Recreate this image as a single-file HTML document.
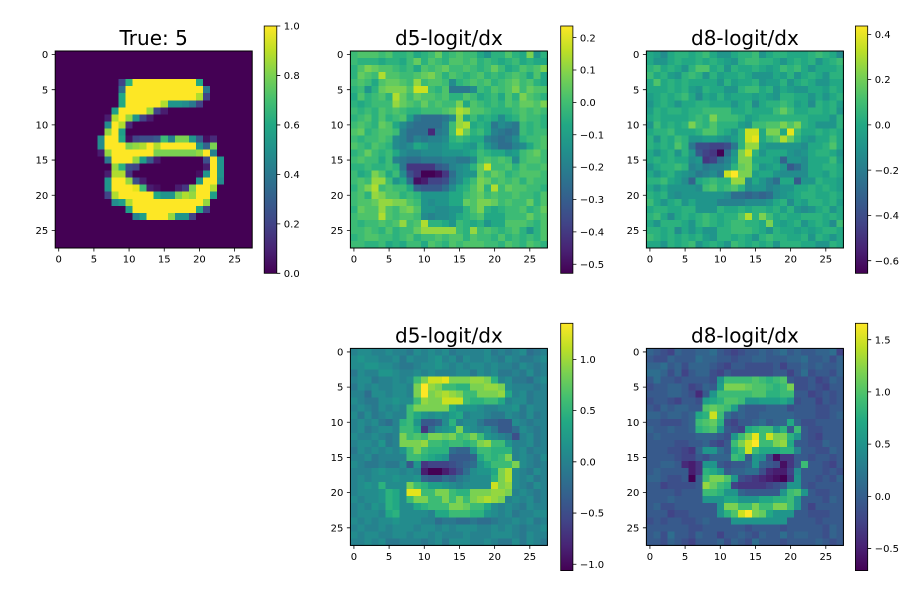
<!DOCTYPE html>
<html><head><meta charset="utf-8">
<style>
html,body{margin:0;padding:0;background:#fff;}
svg{display:block;}
text{font-family:"DejaVu Sans","Liberation Sans",sans-serif;fill:#000;}
.t{font-size:20px;text-anchor:middle;}
.tk{font-size:10px;}
.m{text-anchor:middle;}
.e{text-anchor:end;}
</style></head><body>
<svg id="s" width="917" height="590" viewBox="0 0 917 590" xmlns="http://www.w3.org/2000/svg">
<defs>
<linearGradient id="vir" x1="0" y1="1" x2="0" y2="0">
<stop offset="0" stop-color="#440154"/><stop offset="0.1" stop-color="#482475"/><stop offset="0.2" stop-color="#414487"/><stop offset="0.3" stop-color="#355f8d"/><stop offset="0.4" stop-color="#2a788e"/><stop offset="0.5" stop-color="#21918c"/><stop offset="0.6" stop-color="#22a884"/><stop offset="0.7" stop-color="#44bf70"/><stop offset="0.8" stop-color="#7ad151"/><stop offset="0.9" stop-color="#bddf26"/><stop offset="1" stop-color="#fde725"/>
</linearGradient>
</defs>
<g id="maps" shape-rendering="crispEdges"></g>

<!-- spines -->
<g fill="none" stroke="#000" stroke-width="1">
<rect x="55.2" y="51" width="197" height="197"/>
<rect x="350.4" y="51" width="197" height="197"/>
<rect x="646.4" y="51" width="197" height="197"/>
<rect x="350.4" y="348.4" width="197" height="197"/>
<rect x="646.4" y="348.4" width="197" height="197"/>
</g>

<!-- colorbars -->
<g>
<rect x="264.2" y="26" width="12.6" height="247.3" fill="url(#vir)" stroke="#000" stroke-width="0.8"/>
<rect x="560.7" y="26" width="12.2" height="247.3" fill="url(#vir)" stroke="#000" stroke-width="0.8"/>
<rect x="855.4" y="26" width="12.3" height="247.3" fill="url(#vir)" stroke="#000" stroke-width="0.8"/>
<rect x="560.7" y="323.3" width="12.2" height="247.3" fill="url(#vir)" stroke="#000" stroke-width="0.8"/>
<rect x="855.4" y="323.3" width="12.3" height="247.3" fill="url(#vir)" stroke="#000" stroke-width="0.8"/>
</g>

<!-- tick marks -->
<g stroke="#000" stroke-width="0.8" fill="none">
<path d="M58.72 248v3.5M93.9 248v3.5M129.08 248v3.5M164.25 248v3.5M199.43 248v3.5M234.61 248v3.5M55.2 54.52h-3.5M55.2 89.7h-3.5M55.2 124.88h-3.5M55.2 160.05h-3.5M55.2 195.23h-3.5M55.2 230.41h-3.5"/>
<path d="M353.92 248v3.5M389.1 248v3.5M424.28 248v3.5M459.45 248v3.5M494.63 248v3.5M529.81 248v3.5M350.4 54.52h-3.5M350.4 89.7h-3.5M350.4 124.88h-3.5M350.4 160.05h-3.5M350.4 195.23h-3.5M350.4 230.41h-3.5"/>
<path d="M649.92 248v3.5M685.1 248v3.5M720.28 248v3.5M755.45 248v3.5M790.63 248v3.5M825.81 248v3.5M646.4 54.52h-3.5M646.4 89.7h-3.5M646.4 124.88h-3.5M646.4 160.05h-3.5M646.4 195.23h-3.5M646.4 230.41h-3.5"/>
<path d="M353.92 545.4v3.5M389.1 545.4v3.5M424.28 545.4v3.5M459.45 545.4v3.5M494.63 545.4v3.5M529.81 545.4v3.5M350.4 351.92h-3.5M350.4 387.1h-3.5M350.4 422.28h-3.5M350.4 457.45h-3.5M350.4 492.63h-3.5M350.4 527.81h-3.5"/>
<path d="M649.92 545.4v3.5M685.1 545.4v3.5M720.28 545.4v3.5M755.45 545.4v3.5M790.63 545.4v3.5M825.81 545.4v3.5M646.4 351.92h-3.5M646.4 387.1h-3.5M646.4 422.28h-3.5M646.4 457.45h-3.5M646.4 492.63h-3.5M646.4 527.81h-3.5"/>
<path d="M276.8 273.3h3.5M276.8 223.84h3.5M276.8 174.38h3.5M276.8 124.92h3.5M276.8 75.46h3.5M276.8 26h3.5"/>
<path d="M572.9 37.65h3.5M572.9 70.02h3.5M572.9 102.39h3.5M572.9 134.76h3.5M572.9 167.13h3.5M572.9 199.5h3.5M572.9 231.87h3.5M572.9 264.24h3.5"/>
<path d="M867.7 34.37h3.5M867.7 79.63h3.5M867.7 124.89h3.5M867.7 170.15h3.5M867.7 215.41h3.5M867.7 260.67h3.5"/>
<path d="M572.9 359.36h3.5M572.9 410.59h3.5M572.9 461.82h3.5M572.9 513.04h3.5M572.9 564.27h3.5"/>
<path d="M867.7 339.7h3.5M867.7 391.91h3.5M867.7 444.13h3.5M867.7 496.34h3.5M867.7 548.56h3.5"/>
</g>

<!-- titles -->
<text class="t" x="153.7" y="45">True: 5</text>
<text class="t" x="448.9" y="45">d5-logit/dx</text>
<text class="t" x="744.9" y="45">d8-logit/dx</text>
<text class="t" x="448.9" y="342.4">d5-logit/dx</text>
<text class="t" x="744.9" y="342.4">d8-logit/dx</text>

<!-- axis tick labels -->
<g class="tk">
<text class="m" x="58.72" y="262.6">0</text><text class="m" x="93.9" y="262.6">5</text><text class="m" x="129.08" y="262.6">10</text><text class="m" x="164.25" y="262.6">15</text><text class="m" x="199.43" y="262.6">20</text><text class="m" x="234.61" y="262.6">25</text>
<text class="e" x="48.2" y="58.1">0</text><text class="e" x="48.2" y="93.3">5</text><text class="e" x="48.2" y="128.5">10</text><text class="e" x="48.2" y="163.6">15</text><text class="e" x="48.2" y="198.8">20</text><text class="e" x="48.2" y="234">25</text>

<text class="m" x="353.92" y="262.6">0</text><text class="m" x="389.1" y="262.6">5</text><text class="m" x="424.28" y="262.6">10</text><text class="m" x="459.45" y="262.6">15</text><text class="m" x="494.63" y="262.6">20</text><text class="m" x="529.81" y="262.6">25</text>
<text class="e" x="343.4" y="58.1">0</text><text class="e" x="343.4" y="93.3">5</text><text class="e" x="343.4" y="128.5">10</text><text class="e" x="343.4" y="163.6">15</text><text class="e" x="343.4" y="198.8">20</text><text class="e" x="343.4" y="234">25</text>

<text class="m" x="649.92" y="262.6">0</text><text class="m" x="685.1" y="262.6">5</text><text class="m" x="720.28" y="262.6">10</text><text class="m" x="755.45" y="262.6">15</text><text class="m" x="790.63" y="262.6">20</text><text class="m" x="825.81" y="262.6">25</text>
<text class="e" x="639.4" y="58.1">0</text><text class="e" x="639.4" y="93.3">5</text><text class="e" x="639.4" y="128.5">10</text><text class="e" x="639.4" y="163.6">15</text><text class="e" x="639.4" y="198.8">20</text><text class="e" x="639.4" y="234">25</text>

<text class="m" x="353.92" y="560">0</text><text class="m" x="389.1" y="560">5</text><text class="m" x="424.28" y="560">10</text><text class="m" x="459.45" y="560">15</text><text class="m" x="494.63" y="560">20</text><text class="m" x="529.81" y="560">25</text>
<text class="e" x="343.4" y="355.5">0</text><text class="e" x="343.4" y="390.7">5</text><text class="e" x="343.4" y="425.9">10</text><text class="e" x="343.4" y="461">15</text><text class="e" x="343.4" y="496.2">20</text><text class="e" x="343.4" y="531.4">25</text>

<text class="m" x="649.92" y="560">0</text><text class="m" x="685.1" y="560">5</text><text class="m" x="720.28" y="560">10</text><text class="m" x="755.45" y="560">15</text><text class="m" x="790.63" y="560">20</text><text class="m" x="825.81" y="560">25</text>
<text class="e" x="639.4" y="355.5">0</text><text class="e" x="639.4" y="390.7">5</text><text class="e" x="639.4" y="425.9">10</text><text class="e" x="639.4" y="461">15</text><text class="e" x="639.4" y="496.2">20</text><text class="e" x="639.4" y="531.4">25</text>

<!-- colorbar labels -->
<text x="283.8" y="276.9">0.0</text><text x="283.8" y="227.4">0.2</text><text x="283.8" y="178">0.4</text><text x="283.8" y="128.5">0.6</text><text x="283.8" y="79.1">0.8</text><text x="283.8" y="29.6">1.0</text>

<text x="579.9" y="41.3">0.2</text><text x="579.9" y="73.6">0.1</text><text x="579.9" y="106">0.0</text><text x="579.9" y="138.4">−0.1</text><text x="579.9" y="170.7">−0.2</text><text x="579.9" y="203.1">−0.3</text><text x="579.9" y="235.5">−0.4</text><text x="579.9" y="267.8">−0.5</text>

<text x="874.7" y="38">0.4</text><text x="874.7" y="83.2">0.2</text><text x="874.7" y="128.5">0.0</text><text x="874.7" y="173.8">−0.2</text><text x="874.7" y="219">−0.4</text><text x="874.7" y="264.3">−0.6</text>

<text x="579.9" y="363">1.0</text><text x="579.9" y="414.2">0.5</text><text x="579.9" y="465.4">0.0</text><text x="579.9" y="516.6">−0.5</text><text x="579.9" y="567.9">−1.0</text>

<text x="874.7" y="343.3">1.5</text><text x="874.7" y="395.5">1.0</text><text x="874.7" y="447.7">0.5</text><text x="874.7" y="499.9">0.0</text><text x="874.7" y="552.2">−0.5</text>
</g>
</svg>
<script>
(function(){
var V=[[68,1,84],[71,19,101],[72,36,117],[70,52,128],[65,68,135],[59,82,139],[53,95,141],[47,108,142],[42,120,142],[37,132,142],[33,145,140],[30,156,137],[34,168,132],[47,180,124],[68,191,112],[94,201,98],[122,209,81],[155,217,60],[189,223,38],[223,227,24],[253,231,37]];
function vir(t){t=Math.max(0,Math.min(1,t));var f=t*20,i=Math.min(19,Math.floor(f)),u=f-i,a=V[i],b=V[i+1];
return 'rgb('+Math.round(a[0]+(b[0]-a[0])*u)+','+Math.round(a[1]+(b[1]-a[1])*u)+','+Math.round(a[2]+(b[2]-a[2])*u)+')';}
var K=197/28;
function draw(x0,y0,rows){var s='';for(var r=0;r<28;r++){var row=rows[r]||'';for(var c=0;c<28;c++){var ch=row.charAt(c)||row.charAt(row.length-1)||'m';var t=(ch.charCodeAt(0)-97)/25;
s+='<rect x="'+(x0+c*K).toFixed(2)+'" y="'+(y0+r*K).toFixed(2)+'" width="'+(K+0.5).toFixed(2)+'" height="'+(K+0.5).toFixed(2)+'" fill="'+vir(t)+'"/>';}}return s;}
var A='aaaaaaaaaaaaaaaaaaaaaaaaaaaa';
var d1=[A,A,A,A,
"aaaaaaaaafqzzzzzzzzzpaaaaaaa",
"aaaaaaaaajzzzzzzzzzzzkaaaaaa",
"aaaaaaaaapzzzzzzzzzzwfaaaaaa",
"aaaaaaaaapzzzzzwnnmkfaaaaaaa",
"aaaaaaaaozzzzvfcaaaaaaaaaaaa",
"aaaaaaacwzvnfcaaaaaaaaaaaaaa",
"aaaaaaamzwdaaaaaaaaaaaaaaaaa",
"aaaaaaavzoaaaaaaaaaaaaaaaaaa",
"aaaaaamzzpbfggh rluunhbdaaaaa".replace(' ',''),
"aaaaaamzzzuvwzwzzzzzniuaaaaa",
"aaaaaacvzzzzzzuuuuuuvzlaaaaa",
"aaaaaaakzzzvohcaaaaaagznaaaa",
"aaaaaaaavqgfaaaaaaaaacznaaaa",
"aaaaaaacwweaaaaaaaaabnznaaaa",
"aaaaaaanzzvgcaaaaaaanzzmaaaa",
"aaaaaaanzzzyrcbaaceuzzwaaaaa",
"aaaaaaafwzzzzzpnnuwvzzoaaaaa",
"aaaaaaaamowzzzzzzzzzzvaaaaaa",
"aaaaaaaaaaozzzzzzzzzpfaaaaaa",
"aaaaaaaaaaalozzzvnnfaaaaaaaa",
A,A,A,A];
var d2=[
"rsssrsqqrpqrtqrsrrpnqqsqpunq",
"rqqqpqqprtqsrqssrsqrqpqrpqpp",
"qsutssrqrpsrstrrsrqrtrpqsrsu",
"qtsrwssrrstusqsrqrsqrqrsrpsp",
"rsrpsttsrvrssrmqrsrsqrstrsqp",
"qrnqtuuusxxrqskkkmrqsrsurtss",
"psqrsqwtrtssrsqqsrpqrpsqusrq",
"qpqrrrvtsrtrsrrupsrqrqsrttsu",
"rqrqsrsrqqrrrstwvssrqqqrsrsr",
"qrsqsqrsokjjjkmvprpqpmpqsrrq",
"rsrqtspmkjjjjlrvwpqpkmlkrqrq",
"stqrssrljjjdklrxtqrplkjkrqrr",
"rqrrsrmljlkllmqrqpplkjkmqrrs",
"srqsrqmlmpommnpponqnljjlmprs",
"qrtrqrpmllmmmnnnoprqppnorstr",
"rsrrprlkjjkkkllkkmrsrsrmrssr",
"qqrqqrqkeeeehilmnqtxrrsqsrrs",
"rpqusprmgeaabejmnntrtsqrsssr",
"rsrvvrnpjbcffgkmprutrsrsqsrr",
"qsuwrsrrpihhhjmpqsuqwrtssrrq",
"rsqvussqrqnnnnpprstrsrrsrrqs",
"rsstvvuusrnmnnpptsuutrsrrtqs",
"qtssvsrtusnnmmnnqsuqpqrrsqrt",
"rssswsrssrmlmmnpqrsppprrrtrs",
"rqrrsrsvrswqqpnrqpqnppsssrqs",
"rrsrqsqrrtvvvvvrqvrsrqrsqnqs",
"qrssrrqrsqrrsrssqsrrqsqrqrqs",
"rrqqrpqprrpsrqsrsssrrqsrqsrq"];
var d3=[
"pompqqpqrpnnpqqrnpqqpppqrqpm",
"pnnpqppqpqponqrrqqpnpqpqnpqr",
"qrpqpnqsspqnqppqpoprqrpnpppq",
"rpqonqrqnqoppqpnnnpoqnpqpnqq",
"pspqpqppppnqoppqnooqnpqpnnpp",
"pppqpqonqppnnqrrpqnponnppoqp",
"opqpqrpmpoqopppoponqqppnpnpq",
"npqpnppqqpppnpqmpqqrqopmqpqo",
"oqpqqpqqrrrrppqppprtrppqqpqn",
"pqppppqrqurrrqopqqqqqqqpppnq",
"nrpqpqurqsqqqonrrssusuqpnnnq",
"pqqrpppqssqpnqxxpuupyrppqpqp",
"qnqprqnnoonmoqxyprswtqonpprp",
"qpqpsqkggffgkqvvonnnnnmppqsp",
"pnpqnqnhfeajnuxqnpppnmnpqqpn",
"pqpqppmnefjlouupppoinnmpppro",
"npqqrqlmkllmqtuqnopnhjmppqqp",
"pnpqonmklmkxzuuoppnmmmmppoqp",
"qqrpomipqrqqvvmpnljpphnnqppo",
"pnpnnnnmrsqrsqmnnlmnnppqpqpo",
"qpqnmnnnnnnmjjijijmnopqqppqp",
"rpnpqnpnnnllllmmmnpqmpoqqpqo",
"pqqppqqnnnqppqpqqpqoqnmnpqnp",
"qrpmpqpqrqpqqswqurpqppqqqpqp",
"pnqqqpnqrqpqrrqqpupopqnpqpmr",
"qqpqmpnpnnqqrrrqpnqppopopqqp",
"rqpqpqpqonqqpqpnqrqqppqnqpnp",
"ppnqpqrnpqpnrqpqpqnqqqppnnqp"];
var d4=[
"lmmllmllkmlmlmkllllmklklmjkl",
"mnmmllmkmllmnlmkmllmlkmlkklm",
"mmnnmmlkklmmnmlmlmmlmllkmlkl",
"kmllnnmllmlmlllmmkmlmkklkmkl",
"lmmkllmlmruxxyuuuvvuqlmkkjlm",
"kmlmllmmluzvurrqquuvvumlllkl",
"lljmmlmmluzuvwvurruuuvplmkll",
"mlkkmmnmmrvuuxxxrqqrrplmmkll",
"lmlkmlmlruuuuupnnnmllmmnkmll",
"mkmklmllrpnmnmoplmmlkkmlkmkl",
"lmlmkjlqrnhhimqlmmkiihhmlkll",
"lmklmmlrrpejmnounmlmkhhjmlkl",
"mllmlklursruutursurnmlkglmkl",
"lmmlnkluuuvrrqrrqruvrrnllmkl",
"kmlmlmlnrurqqqjiinrrqqqlmkll",
"llmkllllrrqponhhhiprqrulmlkm",
"mlkklkkmhnefffghijnprrrumlkl",
"lllmnmmlmlcaacegjmnnpuwmlkml",
"lmlmmmnmmnihhjiklmmmquwmlmkl",
"lmnmqmmmurqoonmlmmmmxuvmlkml",
"lmmmnqpmyyrruurqquuuvvulmlkl",
"mlmmnqpmruurrururuvwvulmlmkl",
"lmlnmqpmmpqrrruutrrpmlmlkmll",
"lmmmlpqmmmmlpprrrqqnmlmkllmm",
"mlmlmmnmmmlljkkjjkjjkllmlmkl",
"lmllmlmmmlmmlmlmmmllmlmlkllm",
"mlmmllmmlmmlmlllmlllmmmlkmll",
"llmlmkklllklmkmmmllmlkkmkmlk"];
var d5=[
"ihgfihhiijhgfghhihijhihhiijf",
"hggihhhjiihhghhiihhhiijhhigi",
"iijhigiiihgfhhgggghfhhihihhi",
"jjigifhiigfhgggggghhfhjghhgi",
"hjhhghhhhgnrrrrsrqrshgghfgih",
"ghhiihfgihouuutssrqrugghgfhh",
"hhhiihgdhnrrrrrssqqrrhhfghgh",
"ghhgfhhgopqssrnnooopnghhfhgh",
"hgihiihhstsroihhhiiighhhgghh",
"iihiihipqxrjhihhiiiiihhhgghi",
"hhggghirstqgfhhijhiipigghhhh",
"ihhihhiqrsnhgfpqrrnqhrhgghhh",
"hihhhhhiiihgnruyrxuuqnhgfhhh",
"hhhhgghhigfhruxzrruvphhggihh",
"hhhggfeinnjhprxrpppqqlhhggih",
"hhhhgffhgiiirqhnmgbeehhghhgh",
"hhiihdcennhghhinihgbehrhhgfh",
"hihhhhceqpnhiijjgdccfmhhhghg",
"iihgghahruusngfedcbaenhhghgi",
"hhfgggghvtrqfeeeefghnnhghhhh",
"hhhhghhhrrqnnihhhhhnrsnhgghh",
"hhhihhhhnnnppnnnppqqrnhhhgih",
"higghhhhhhnuurrurruurnhfhhhh",
"hhhfgghhhhnqsxzutpnnnhhggghh",
"ghghhgghihhhnnnnnnnnhhhhghhh",
"hhhhhhgghhhhhhghhhhghhhhhgih",
"higjhhgihhfhhihgihhjhiihhgih",
"hhgihgfhhhigihgjhhhghhhhihgh"];
var s=draw(55.2,51,d1)+draw(350.4,51,d2)+draw(646.4,51,d3)+draw(350.4,348.4,d4)+draw(646.4,348.4,d5);
document.getElementById('maps').innerHTML=s;
})();
</script>
</body></html>
